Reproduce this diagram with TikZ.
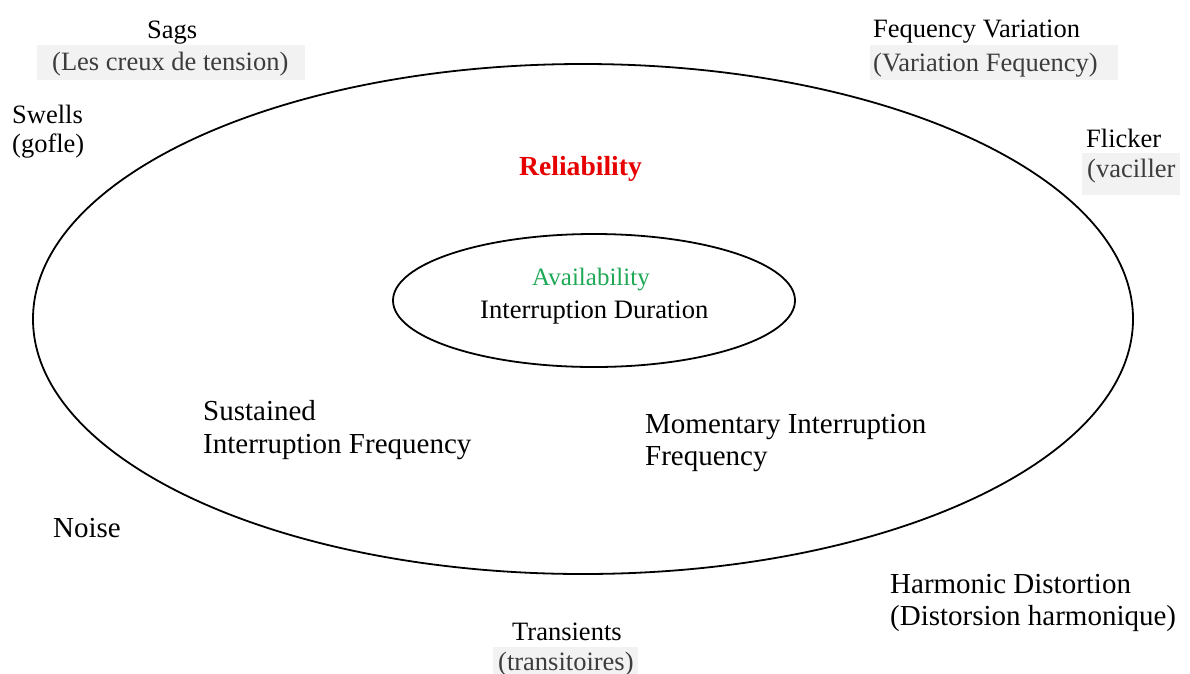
\documentclass[tikz,border=0pt]{standalone}
\usepackage{fontspec}
\setmainfont{Liberation Serif}
\usetikzlibrary{shapes.geometric}
\definecolor{boxgrey}{HTML}{F2F2F2}
\definecolor{notegrey}{HTML}{3C3C3C}
\definecolor{relred}{HTML}{E60000}
\definecolor{availgreen}{HTML}{1FA855}
\begin{document}
\begin{tikzpicture}[x=1pt,y=-1pt,
  lbl/.style={inner sep=0pt, anchor=base west, font=\fontsize{26.5}{30}\selectfont},
  biglbl/.style={inner sep=0pt, anchor=base west, font=\fontsize{29}{34}\selectfont},
  note/.style={fill=boxgrey, text=notegrey, inner ysep=0pt, anchor=west,
    font=\fontsize{26.5}{30}\selectfont},
  ring/.style={ellipse, draw, line width=1.8pt, inner sep=0pt}]
\useasboundingbox (0,0) rectangle (1190,673);

% nested regions
\node[ring, minimum width=1100pt, minimum height=510pt] (outer) at (583,319) {};
\node[ring, minimum width=402pt, minimum height=133pt] (inner) at (594,300.5) {};

% inside the rings
\node[inner sep=0pt, anchor=base west, text=relred,
  font=\fontsize{27.6}{32}\selectfont\bfseries] (rel) at (519,175) {Reliability};
\node[inner sep=0pt, anchor=base west, text=availgreen,
  font=\fontsize{25}{30}\selectfont] (avail) at (532,285) {Availability};
\node[inner sep=0pt, anchor=base west,
  font=\fontsize{26.6}{30}\selectfont] (intdur) at (480,318) {Interruption Duration};
\node[biglbl] (sustA) at (203,420) {Sustained};
\node[biglbl] (sustB) at (203,453) {Interruption Frequency};
\node[biglbl] (momA) at (645,433) {Momentary Interruption};
\node[biglbl] (momB) at (645,465) {Frequency};

% disturbances around the rings
\node[lbl] (sags) at (147,38) {Sags};
\node[note, inner xsep=15pt, text height=25pt, text depth=10pt]
  (sagsfr) at (37,62.5) {\makebox[238pt][l]{(Les creux de tension)}};
\node[lbl] (swells) at (12,123) {Swells};
\node[lbl] (swellsfr) at (12,152) {(gofle)};
\node[lbl] (freq) at (873,37) {Fequency Variation};
\node[note, inner xsep=3pt, text height=26pt, text depth=9pt]
  (freqfr) at (870,62.5) {\makebox[242pt][l]{(Variation Fequency)}};
\node[lbl] (flick) at (1086,147) {Flicker};
\node[note, inner xsep=5pt, text height=24pt, text depth=18pt]
  (flickfr) at (1082,174) {\makebox[88pt][l]{(vaciller}};
\node[biglbl] (noise) at (53,537) {Noise};
\node[biglbl] (harm) at (890,593) {Harmonic Distortion};
\node[biglbl] (harmfr) at (890,625) {(Distorsion harmonique)};
\node[lbl] (trans) at (512,640) {Transients};
\node[note, inner xsep=5pt, text height=23pt, text depth=10pt]
  (transfr) at (493,663.5) {\makebox[135pt][l]{(transitoires)}};
\end{tikzpicture}
\end{document}
